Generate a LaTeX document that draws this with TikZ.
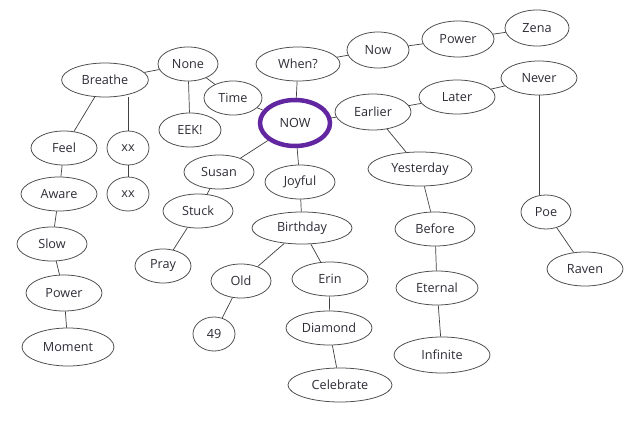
\documentclass[tikz,border=0pt]{standalone}
\usepackage{fontspec}
\setmainfont{Open Sans}
\usetikzlibrary{shapes.geometric}
\definecolor{nowpurple}{RGB}{98,38,160}
\definecolor{inkgray}{RGB}{45,45,55}
\tikzset{
    bubble/.style={ellipse, draw=black!70, line width=0.55pt, inner sep=0pt,
        minimum height=0.85cm, text=inkgray, font=\fontsize{9}{11}\selectfont},
    link/.style={draw=black!75, line width=0.5pt}
}
\begin{document}
\begin{tikzpicture}[x=0.025cm, y=-0.025cm]
        \useasboundingbox[fill=white] (0,0) rectangle (640,434);
        % Centre
        \node[bubble, draw=nowpurple, line width=3.2pt, minimum width=1.75cm, minimum height=1.15cm] (now) at (295,123) {NOW};

        % Left branch
        \node[bubble, minimum width=2.17cm] (breathe) at (105,80) {Breathe};
        \node[bubble, minimum width=1.5cm] (none) at (188,64) {None};
        \node[bubble, minimum width=1.45cm] (time) at (233,98) {Time};
        \node[bubble, minimum width=1.55cm] (eek) at (190,130) {EEK!};
        \node[bubble, minimum width=1.65cm] (feel) at (64,148) {Feel};
        \node[bubble, minimum width=1.05cm] (xxa) at (128,148) {xx};
        \node[bubble, minimum width=1.9cm] (aware) at (59,194) {Aware};
        \node[bubble, minimum width=1.05cm] (xxb) at (128,194) {xx};
        \node[bubble, minimum width=1.75cm] (slow) at (52,244) {Slow};
        \node[bubble, minimum width=1.9cm, minimum height=0.9cm] (powerb) at (64,293) {Power};
        \node[bubble, minimum width=2.3cm, minimum height=0.95cm] (moment) at (68,347) {Moment};

        % Top branch
        \node[bubble, minimum width=2.1cm] (when) at (298,64) {When?};
        \node[bubble, minimum width=1.55cm, minimum height=0.9cm] (nowb) at (378,50) {Now};
        \node[bubble, minimum width=1.8cm, minimum height=0.9cm] (powera) at (458,39) {Power};
        \node[bubble, minimum width=1.6cm, minimum height=0.9cm] (zena) at (537,28) {Zena};

        % Right branch
        \node[bubble, minimum width=1.9cm, minimum height=0.9cm] (earlier) at (373,112) {Earlier};
        \node[bubble, minimum width=1.9cm] (later) at (457,97) {Later};
        \node[bubble, minimum width=1.9cm] (never) at (539,78) {Never};
        \node[bubble, minimum width=1.25cm] (poe) at (546,212) {Poe};
        \node[bubble, minimum width=1.9cm] (raven) at (585,269) {Raven};
        \node[bubble, minimum width=2.6cm] (yesterday) at (420,169) {Yesterday};
        \node[bubble, minimum width=2cm] (before) at (435,229) {Before};
        \node[bubble, minimum width=2.05cm] (eternal) at (437,288) {Eternal};
        \node[bubble, minimum width=2.4cm, minimum height=0.9cm] (infinite) at (442,355) {Infinite};

        % Lower branch
        \node[bubble, minimum width=1.75cm] (susan) at (219,172) {Susan};
        \node[bubble, minimum width=1.75cm] (stuck) at (198,211) {Stuck};
        \node[bubble, minimum width=1.4cm] (pray) at (163,266) {Pray};
        \node[bubble, minimum width=1.75cm] (joyful) at (300,182) {Joyful};
        \node[bubble, minimum width=2.5cm, minimum height=0.8cm] (birthday) at (302,228) {Birthday};
        \node[bubble, minimum width=1.5cm] (old) at (241,281) {Old};
        \node[bubble, minimum width=1.05cm] (fortynine) at (214,334) {49};
        \node[bubble, minimum width=1.9cm] (erin) at (330,279) {Erin};
        \node[bubble, minimum width=2.15cm] (diamond) at (329,328) {Diamond};
        \node[bubble, minimum width=2.6cm] (celebrate) at (340,385) {Celebrate};

        % Links
        \draw[link] (breathe) -- (none);
        \draw[link] (breathe) -- (feel);
        \draw[link] (xxa.north) -- (xxa.north |- breathe.south);
        \draw[link] (feel) -- (aware);
        \draw[link] (aware) -- (slow);
        \draw[link] (slow) -- (powerb);
        \draw[link] (powerb) -- (moment);
        \draw[link] (xxa) -- (xxb);
        \draw[link] (none) -- (eek);
        \draw[link] (none) -- (time);
        \draw[link] (time) -- (now);
        \draw[link] (when) -- (now);
        \draw[link] (when) -- (nowb);
        \draw[link] (nowb) -- (powera);
        \draw[link] (powera) -- (zena);
        \draw[link] (now) -- (earlier);
        \draw[link] (earlier) -- (later);
        \draw[link] (later) -- (never);
        \draw[link] (never) -- (never |- poe.north);
        \draw[link] (poe) -- (raven);
        \draw[link] (earlier) -- (yesterday);
        \draw[link] (yesterday) -- (before);
        \draw[link] (before) -- (eternal);
        \draw[link] (eternal) -- (infinite);
        \draw[link] (now) -- (susan);
        \draw[link] (susan) -- (stuck);
        \draw[link] (stuck) -- (pray);
        \draw[link] (now) -- (joyful);
        \draw[link] (joyful) -- (birthday);
        \draw[link] (birthday) -- (old);
        \draw[link] (old) -- (fortynine);
        \draw[link] (birthday) -- (erin);
        \draw[link] (erin) -- (diamond);
        \draw[link] (diamond) -- (celebrate);
\end{tikzpicture}
\end{document}
